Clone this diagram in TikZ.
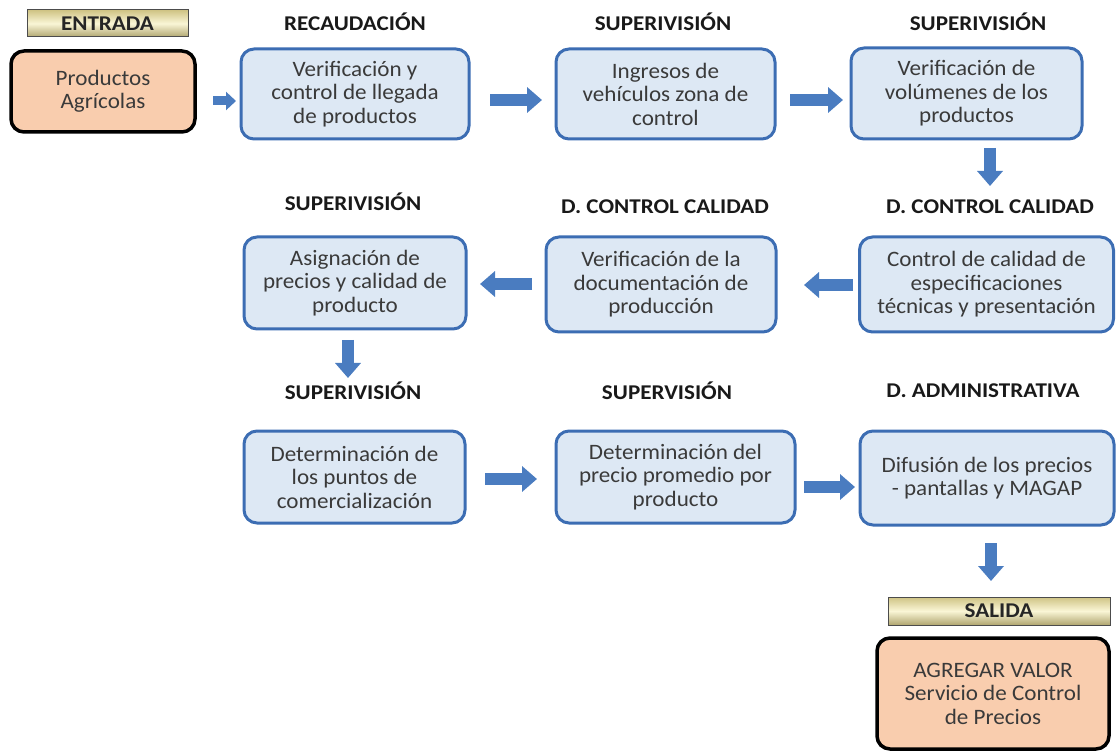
\documentclass[tikz,border=0pt]{standalone}
\usepackage{fontspec}
\setmainfont{Carlito}[FakeStretch=1.05]
\newfontfamily\headfont{Carlito}[FakeStretch=1.1]
\usetikzlibrary{arrows.meta}
\definecolor{boxline}{HTML}{3C6DB3}
\definecolor{boxfill}{HTML}{DDE8F4}
\definecolor{peach}{HTML}{F9CDAE}
\definecolor{arrowblue}{HTML}{4A7CC0}
\definecolor{txt}{HTML}{3A3A3A}
\definecolor{goldA}{HTML}{CFC384}
\definecolor{goldB}{HTML}{FAF6D6}
\begin{document}
\begin{tikzpicture}[x=1pt,y=-1pt,
  stepbox/.style={draw=boxline, line width=3pt, fill=boxfill, rounded corners=13pt,
    align=center, text=txt, font=\fontsize{22}{23.5}\selectfont, inner sep=0pt},
  endbox/.style={draw=black, line width=3.5pt, fill=peach, rounded corners=13pt,
    align=center, text=txt, font=\fontsize{22}{23.5}\selectfont, inner sep=0pt},
  tag/.style={draw=black!70, line width=1pt, top color=goldA, bottom color=goldA!85!black,
    middle color=goldB, font=\headfont\fontsize{21}{22}\selectfont\bfseries, text=black!85, inner sep=0pt},
  heading/.style={font=\headfont\fontsize{21}{22}\selectfont\bfseries, text=black!90, inner sep=0pt},
  barrow/.style={draw=arrowblue, line width=12pt, -{Triangle[length=15pt,width=25pt]}},
  sarrow/.style={draw=arrowblue, line width=9pt, -{Triangle[length=10pt,width=18pt]}}
]
\useasboundingbox (0,0) rectangle (1117,751);

% input and output labels
\node[tag, minimum width=161pt, minimum height=27pt] (entrada) at (107.5,23.5) {ENTRADA};
\node[tag, minimum width=222pt, minimum height=28pt] (salida) at (999,611) {SALIDA};

% section headings
\node[heading] (h1) at (355,22) {RECAUDACIÓN};
\node[heading] (h2) at (663,22) {SUPERIVISIÓN};
\node[heading] (h3) at (978,22) {SUPERIVISIÓN};
\node[heading] (h4) at (353,202) {SUPERIVISIÓN};
\node[heading] (h5) at (665,207) {D. CONTROL CALIDAD};
\node[heading] (h6) at (990,207) {D. CONTROL CALIDAD};
\node[heading] (h7) at (353,391) {SUPERIVISIÓN};
\node[heading] (h8) at (667,391) {SUPERVISIÓN};
\node[heading] (h9) at (983,391) {D. ADMINISTRATIVA};

% process boxes
\node[endbox, minimum width=184pt, minimum height=81pt] (in) at (103,91.5) {Productos\\Agrícolas};
\node[stepbox, minimum width=228pt, minimum height=90pt] (b1) at (355,94) {Verificación y\\control de llegada\\de productos};
\node[stepbox, minimum width=219pt, minimum height=90pt] (b2) at (665.5,94) {Ingresos de\\vehículos zona de\\control};
\node[stepbox, minimum width=231pt, minimum height=91pt] (b3) at (966.5,93.5) {Verificación de\\volúmenes de los\\productos};
\node[stepbox, minimum width=222pt, minimum height=92pt] (b4) at (355,283) {Asignación de\\precios y calidad de\\producto};
\node[stepbox, minimum width=230pt, minimum height=95pt] (b5) at (661,284.5) {Verificación de la\\documentación de\\producción};
\node[stepbox, minimum width=254pt, minimum height=95pt] (b6) at (986.5,284.5) {Control de calidad de\\especificaciones\\técnicas y presentación};
\node[stepbox, minimum width=221pt, minimum height=92pt] (b7) at (354.5,477) {Determinación de\\los puntos de\\comercialización};
\node[stepbox, minimum width=239pt, minimum height=92pt] (b8) at (675.5,477) {Determinación del\\precio promedio por\\producto};
\node[stepbox, minimum width=254pt, minimum height=94pt] (b9) at (987,478) {Difusión de los precios\\- pantallas y MAGAP};
\node[endbox, minimum width=232pt, minimum height=111pt] (out) at (993,693.5) {AGREGAR VALOR\\Servicio de Control\\de Precios};

% block arrow end points
\coordinate (a0s) at (213,101);   \coordinate (a0e) at (236,101);
\coordinate (a1s) at (490,100);   \coordinate (a1e) at (542,100);
\coordinate (a2s) at (790,100);   \coordinate (a2e) at (843,100);
\coordinate (a3s) at (990,148);   \coordinate (a3e) at (990,186);
\coordinate (a4s) at (532,284);   \coordinate (a4e) at (480,284);
\coordinate (a5s) at (853,285);   \coordinate (a5e) at (804,285);
\coordinate (a6s) at (348,340);   \coordinate (a6e) at (348,378);
\coordinate (a7s) at (485,479);   \coordinate (a7e) at (537,479);
\coordinate (a8s) at (804,487);   \coordinate (a8e) at (855,487);
\coordinate (a9s) at (991,543);   \coordinate (a9e) at (991,581);

% block arrows
\draw[sarrow] (a0s) -- (a0e);
\draw[barrow] (a1s) -- (a1e);
\draw[barrow] (a2s) -- (a2e);
\draw[barrow] (a3s) -- (a3e);
\draw[barrow] (a4s) -- (a4e);
\draw[barrow] (a5s) -- (a5e);
\draw[barrow] (a6s) -- (a6e);
\draw[barrow] (a7s) -- (a7e);
\draw[barrow] (a8s) -- (a8e);
\draw[barrow] (a9s) -- (a9e);
\end{tikzpicture}
\end{document}
